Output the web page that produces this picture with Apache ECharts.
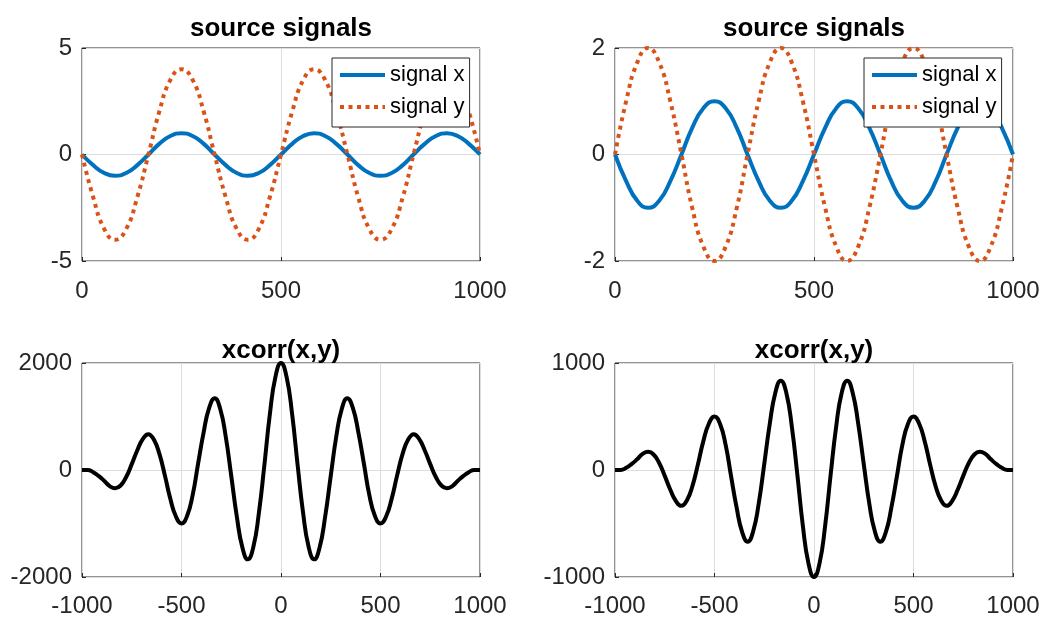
<!DOCTYPE html>
<html>
<head>
<meta charset="utf-8">
<title>source signals / xcorr(x,y)</title>
<script src="https://cdn.jsdelivr.net/npm/echarts@6/dist/echarts.min.js"></script>
<style>
    html, body { margin: 0; padding: 0; background: #fff; }
    #main { width: 1043px; height: 620px; }
</style>
</head>
<body>
<div id="main"></div>
<script>
// sample index of the source signals
var t = [0, 28, 56, 83, 111, 139, 167, 194, 222, 250, 278, 306, 333, 361, 389, 417, 444, 472, 500,
    528, 556, 583, 611, 639, 667, 694, 722, 750, 778, 806, 833, 861, 889, 917, 944, 972, 1000];
var signalX = [0, -0.5, -0.87, -1, -0.87, -0.5, 0, 0.5, 0.87, 1, 0.87, 0.5,
    0, -0.5, -0.87, -1, -0.87, -0.5, 0, 0.5, 0.87, 1, 0.87, 0.5,
    0, -0.5, -0.87, -1, -0.87, -0.5, 0, 0.5, 0.87, 1, 0.87, 0.5, 0];
// signal y, left panel
var signalYLeft = [0, -2, -3.5, -4, -3.5, -2, 0, 2, 3.5, 4, 3.5, 2,
    0, -2, -3.5, -4, -3.5, -2, 0, 2, 3.5, 4, 3.5, 2,
    0, -2, -3.5, -4, -3.5, -2, 0, 2, 3.5, 4, 3.5, 2, 0];
// signal y, right panel
var signalYRight = [0, 1, 1.73, 2, 1.73, 1, 0, -1, -1.73, -2, -1.73, -1,
    0, 1, 1.73, 2, 1.73, 1, 0, -1, -1.73, -2, -1.73, -1,
    0, 1, 1.73, 2, 1.73, 1, 0, -1, -1.73, -2, -1.73, -1, 0];

// lags of the cross correlation
var lags = [-1000, -972, -944, -917, -889, -861, -833, -806, -778, -750, -722, -694, -667, -639, -611,
    -583, -556, -528, -500, -472, -444, -417, -389, -361, -333, -306, -278, -250, -222, -194, -167,
    -139, -111, -83, -56, -28, 0, 28, 56, 83, 111, 139, 167, 194, 222, 250, 278, 306, 333, 361, 389,
    417, 444, 472, 500, 528, 556, 583, 611, 639, 667, 694, 722, 750, 778, 806, 833, 861, 889, 917,
    944, 972, 1000];
var xcorrLeft = [0, 0, -40, -110, -200, -300, -340, -290, -130, 110, 370, 580, 670, 570, 300, -110,
    -540, -870, -1000, -860, -470, 110, 700, 1160, 1340, 1150, 630, -110, -870, -1450, -1670, -1440,
    -800, 110, 1040, 1740,
    2000,
    1740, 1040, 110, -800, -1440, -1670, -1450, -870, -110, 630, 1150, 1340, 1160, 700, 110, -470,
    -860, -1000, -870, -540, -110, 300, 570, 670, 580, 370, 110, -130, -290, -340, -300, -200, -110,
    -40, 0, 0];
var xcorrRight = [0, 0, 20, 55, 100, 150, 170, 145, 65, -55, -185, -290, -335, -285, -150, 55,
    270, 435, 500, 430, 235, -55, -350, -580, -670, -575, -315, 55, 435, 725, 835, 720,
    400, -55, -520, -870,
    -1000,
    -870, -520, -55, 400, 720, 835, 725, 435, 55, -315, -575, -670, -580, -350, -55, 235,
    430, 500, 435, 270, 55, -150, -285, -335, -290, -185, -55, 65, 145, 170, 150, 100, 55,
    20, 0, 0];

// tick values
var timeTicks = [0, 500, 1000];
var lagTicks = [-1000, -500, 0, 500, 1000];
var ampTicksLeft = [-5, 0, 5];
var ampTicksRight = [-2, 0, 2];
var xcorrTicksLeft = [-2000, 0, 2000];
var xcorrTicksRight = [-1000, 0, 1000];

var FONT = 'Liberation Sans';
var BLUE = '#0072BD';
var ORANGE = '#D95319';

function pairs(xs, ys) {
    return xs.map(function (x, i) { return [x, ys[i]]; });
}

function axis(gridIndex, ticks, margin) {
    return {
        type: 'value',
        gridIndex: gridIndex,
        min: ticks[0],
        max: ticks[ticks.length - 1],
        interval: ticks[1] - ticks[0],
        axisLine: { show: false, onZero: false },
        axisTick: { show: true, inside: true, length: 4, lineStyle: { color: '#262626' } },
        axisLabel: {
            fontFamily: FONT, fontSize: 24, color: '#262626', margin: margin,
            formatter: function (v) { return String(v); }
        },
        splitLine: { show: true, lineStyle: { color: '#dedede', width: 1 } }
    };
}

function line(name, xi, data, color, dotted) {
    return {
        name: name,
        type: 'line',
        xAxisIndex: xi,
        yAxisIndex: xi,
        data: data,
        smooth: true,
        symbol: 'none',
        showSymbol: false,
        lineStyle: { color: color, width: 4, type: dotted ? [4, 4.5] : 'solid', cap: 'butt' },
        itemStyle: { color: color }
    };
}

function title(text, x, y) {
    return {
        text: text, left: x, top: y, textAlign: 'center', padding: 0,
        textStyle: { fontFamily: FONT, fontSize: 26, fontWeight: 'bold', color: '#000' }
    };
}

function legend(x) {
    return {
        data: ['signal x', 'signal y'],
        orient: 'vertical',
        left: x, top: 58,
        padding: [6, 5, 9, 6],
        itemWidth: 45, itemHeight: 14, itemGap: 10,
        borderColor: '#262626', borderWidth: 1,
        backgroundColor: '#fff',
        selectedMode: false,
        itemStyle: { opacity: 0 },
        lineStyle: { width: 4 },
        textStyle: { fontFamily: FONT, fontSize: 22, color: '#000' }
    };
}

var gridStyle = { show: true, borderColor: '#262626', borderWidth: 1, backgroundColor: '#fff' };
var grids = [
    { left: 82, top: 48, width: 398, height: 213 },
    { left: 615, top: 48, width: 398, height: 213 },
    { left: 82, top: 363, width: 398, height: 214 },
    { left: 615, top: 363, width: 398, height: 214 }
].map(function (g) { return Object.assign({}, gridStyle, g); });

var myChart = echarts.init(document.getElementById('main'));
var option = {
    animation: false,
    backgroundColor: '#fff',
    title: [
        title('source signals', 281, 16),
        title('source signals', 814, 16),
        title('xcorr(x,y)', 281, 338),
        title('xcorr(x,y)', 814, 338)
    ],
    legend: [legend(332), legend(864)],
    grid: grids,
    xAxis: [
        axis(0, timeTicks, 18),
        axis(1, timeTicks, 18),
        axis(2, lagTicks, 17),
        axis(3, lagTicks, 17)
    ],
    yAxis: [
        axis(0, ampTicksLeft, 10),
        axis(1, ampTicksRight, 10),
        axis(2, xcorrTicksLeft, 10),
        axis(3, xcorrTicksRight, 10)
    ],
    series: [
        line('signal x', 0, pairs(t, signalX), BLUE, false),
        line('signal y', 0, pairs(t, signalYLeft), ORANGE, true),
        line('signal x', 1, pairs(t, signalX), BLUE, false),
        line('signal y', 1, pairs(t, signalYRight), ORANGE, true),
        line('xcorr left', 2, pairs(lags, xcorrLeft), '#000', false),
        line('xcorr right', 3, pairs(lags, xcorrRight), '#000', false)
    ]
};
myChart.setOption(option);
</script>
</body>
</html>
